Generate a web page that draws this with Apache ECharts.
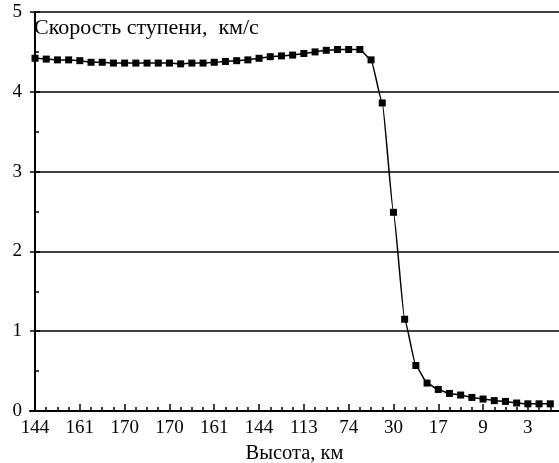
<!DOCTYPE html>
<html>
<head>
<meta charset="utf-8">
<script src="https://cdn.jsdelivr.net/npm/echarts@6/dist/echarts.min.js"></script>
<style>
html,body{margin:0;padding:0;background:#fff;}
#chart{width:559px;height:463px;}
</style>
</head>
<body>
<div id="chart"></div>
<script>
// Tick labels (altitude, km) shown at every 4th point
const xTickLabels = ['144','161','170','170','161','144','113','74','30','17','9','3'];
const labelStep = 4;
// Stage speed, km/s, one value per point along the trajectory
const speed = [
  4.42, 4.41, 4.40, 4.40, 4.39, 4.37, 4.37, 4.36, 4.36, 4.36,
  4.36, 4.36, 4.36, 4.35, 4.36, 4.36, 4.37, 4.38, 4.39, 4.40,
  4.42, 4.44, 4.45, 4.46, 4.48, 4.50, 4.52, 4.53, 4.53, 4.53,
  4.40, 3.86, 2.49, 1.15, 0.57, 0.35, 0.27, 0.22, 0.20, 0.17,
  0.15, 0.13, 0.12, 0.10, 0.09, 0.09, 0.09
];
const yTicks = [0, 1, 2, 3, 4, 5];

const FONT = 'Liberation Serif';
const majorIdx = xTickLabels.map((_, k) => k * labelStep);
const allIdx = speed.map((_, i) => i);
const xMin = -0.45, xMax = 46.78;

const chart = echarts.init(document.getElementById('chart'), null, {renderer: 'canvas'});
chart.setOption({
  animation: false,
  backgroundColor: '#fff',
  title: {
    text: 'Скорость ступени,  км/с',
    left: 34, top: 17, padding: 0,
    textStyle: {fontFamily: FONT, fontSize: 22, fontWeight: 'normal', color: '#000'}
  },
  grid: {left: 30, right: 0, top: 12, bottom: 52, containLabel: false, outerBoundsMode: 'none'},
  xAxis: [
    {
      type: 'value', min: xMin, max: xMax, position: 'bottom',
      axisLine: {show: true, onZero: false, lineStyle: {color: '#000', width: 2}},
      axisTick: {show: true, inside: true, length: 7, customValues: majorIdx, lineStyle: {color: '#000', width: 1.5}},
      axisLabel: {
        customValues: majorIdx,
        formatter: v => xTickLabels[Math.round(v / labelStep)],
        color: '#000', fontFamily: FONT, fontSize: 19, margin: 8
      },
      splitLine: {show: false},
      name: 'Высота, км', nameLocation: 'middle', nameGap: 32,
      nameTextStyle: {fontFamily: FONT, fontSize: 20.5, color: '#000'}
    },
    {
      type: 'value', min: xMin, max: xMax, position: 'bottom',
      axisLine: {show: false, onZero: false},
      axisTick: {show: true, inside: true, length: 4, customValues: allIdx, lineStyle: {color: '#000', width: 1.5}},
      axisLabel: {show: false},
      splitLine: {show: false}
    }
  ],
  yAxis: {
    type: 'value', min: yTicks[0], max: yTicks[yTicks.length - 1], interval: 1,
    axisLine: {show: true, lineStyle: {color: '#000', width: 2}},
    axisTick: {show: true, inside: true, length: 5, lineStyle: {color: '#000', width: 1.5}},
    minorTick: {show: true, splitNumber: 2, length: 4, lineStyle: {color: '#000', width: 1.5}},
    axisLabel: {color: '#000', fontFamily: FONT, fontSize: 19, margin: 8},
    splitLine: {show: true, lineStyle: {color: '#000', width: 1.5}}
  },
  series: [{
    type: 'line',
    xAxisIndex: 0,
    data: speed.map((v, i) => [i, v]),
    smooth: 0.15,
    smoothMonotone: 'x',
    symbol: 'rect',
    symbolSize: 7,
    lineStyle: {color: '#000', width: 1.5},
    itemStyle: {color: '#000'}
  }]
});
</script>
</body>
</html>
